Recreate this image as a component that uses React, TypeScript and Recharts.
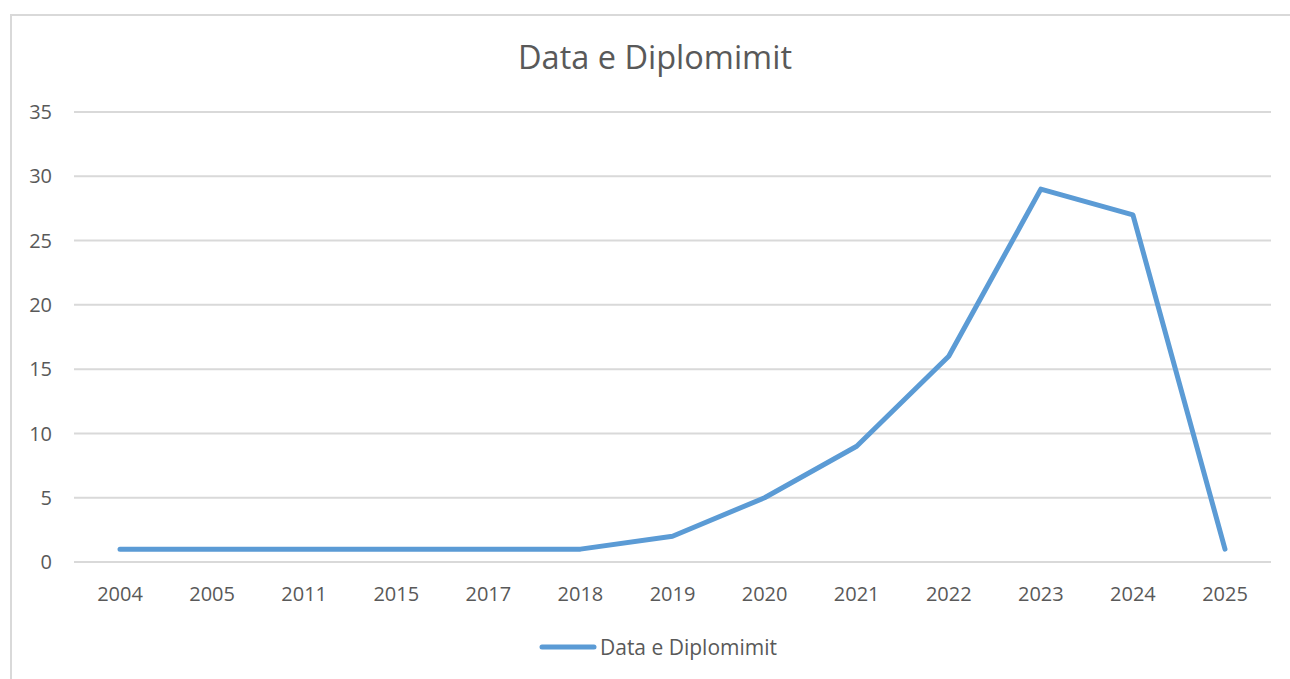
import { LineChart, Line, XAxis, YAxis, CartesianGrid, Legend } from 'recharts';

const years = ['2004', '2005', '2011', '2015', '2017', '2018', '2019', '2020', '2021', '2022', '2023', '2024', '2025'];
const diplomas = [1, 1, 1, 1, 1, 1, 2, 5, 9, 16, 29, 27, 1];
const yTicks = [0, 5, 10, 15, 20, 25, 30, 35];

const SERIES_NAME = 'Data e Diplomimit';
const FONT = '"Open Sans", "Noto Sans", sans-serif';
const TEXT = '#595959';
const BLUE = '#5B9BD5';

const chartData = years.map((year, i) => ({ year, value: diplomas[i] }));

function LegendContent() {
  return (
    <div
      style={{
        display: 'flex',
        justifyContent: 'center',
        alignItems: 'center',
        marginTop: 24,
        paddingLeft: 45,
        fontFamily: FONT,
        fontSize: 21,
        color: TEXT,
      }}
    >
      <svg width={58} height={10} style={{ marginRight: 3 }}>
        <line x1={3} y1={5} x2={55} y2={5} stroke={BLUE} strokeWidth={5} strokeLinecap="round" />
      </svg>
      <span>{SERIES_NAME}</span>
    </div>
  );
}

export default function App() {
  return (
    <div style={{ position: 'absolute', left: 0, top: 0, width: 1290, height: 679, overflow: 'hidden', background: '#fff' }}>
      {/* chart area border */}
      <div style={{ position: 'absolute', left: 10, top: 14, width: 1300, height: 700, border: '2px solid #d9d9d9', boxSizing: 'border-box' }} />
      <div
        style={{
          position: 'absolute',
          left: 0,
          top: 34,
          width: 1290,
          textAlign: 'center',
          paddingLeft: 20,
          boxSizing: 'border-box',
          fontFamily: FONT,
          fontSize: 32.5,
          color: TEXT,
        }}
      >
        {SERIES_NAME}
      </div>
      <div style={{ position: 'absolute', left: 0, top: 0 }}>
        <LineChart width={1290} height={679} data={chartData} margin={{ top: 112, right: 19, left: 0, bottom: 30 }}>
          <CartesianGrid vertical={false} stroke="#d9d9d9" strokeWidth={2} />
          <XAxis
            dataKey="year"
            height={47}
            padding={{ left: 46, right: 46 }}
            tickLine={false}
            axisLine={{ stroke: '#d9d9d9', strokeWidth: 2 }}
            tick={{ fill: TEXT, fontSize: 20, fontFamily: FONT }}
            tickMargin={19}
            interval={0}
          />
          <YAxis
            width={74}
            domain={[0, 35]}
            ticks={yTicks}
            tickLine={false}
            axisLine={false}
            tickSize={0}
            tickMargin={22}
            tick={{ fill: TEXT, fontSize: 20, fontFamily: FONT }}
          />
          <Legend verticalAlign="bottom" height={40} content={<LegendContent />} />
          <Line
            type="linear"
            dataKey="value"
            name={SERIES_NAME}
            stroke={BLUE}
            strokeWidth={5}
            strokeLinecap="round"
            strokeLinejoin="round"
            dot={false}
            isAnimationActive={false}
          />
        </LineChart>
      </div>
    </div>
  );
}
